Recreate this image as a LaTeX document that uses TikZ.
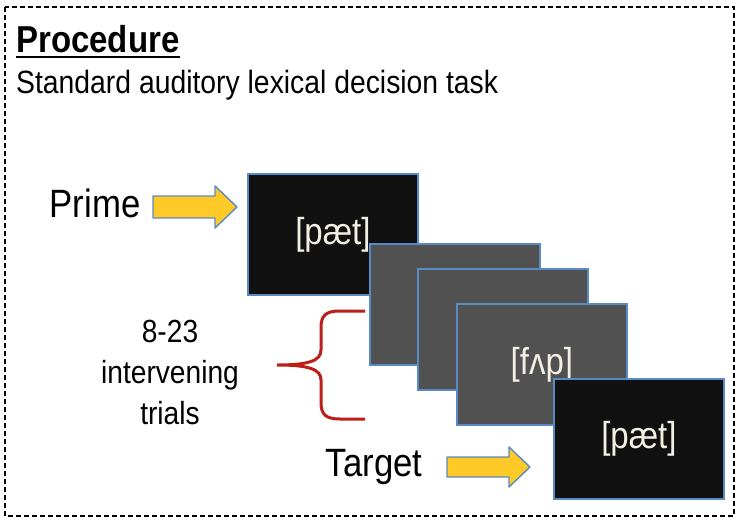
\documentclass[tikz,border=0pt]{standalone}
\usepackage{fontspec}
\setmainfont[FakeStretch=0.88]{Liberation Sans}
\usepackage{tikz}
\definecolor{screenblue}{HTML}{5A8AC6}
\definecolor{screengray}{HTML}{515151}
\definecolor{screenblack}{HTML}{111111}
\definecolor{ipatext}{HTML}{F2F0E2}
\definecolor{arrowyellow}{HTML}{FFCA28}
\definecolor{bracered}{HTML}{BC1E18}
\tikzstyle{screen}=[draw=screenblue,line width=1.8pt,anchor=north west,minimum width=170pt,minimum height=121pt,inner sep=0pt,text=ipatext,font=\fontsize{37.5}{40}\selectfont]
\tikzstyle{label}=[inner sep=0pt,font=\fontsize{39.5}{44}\selectfont]
\tikzstyle{yarrow}=[fill=arrowyellow,draw=screenblue,line width=1.4pt,line join=round]

\begin{document}
\begin{tikzpicture}[x=1pt,y=-1pt]
	\useasboundingbox (0,0) rectangle (750,530);
	\draw[dash pattern=on 5pt off 3pt,line width=1.2pt] (5,7) rectangle (734,516);

	\node(title)[anchor=base west,inner sep=0pt,font=\fontsize{37.5}{40}\bfseries\selectfont] at (16,52){Procedure};
	\draw[line width=2.6pt] ([yshift=-5pt]title.base west) -- ([yshift=-5pt]title.base east);
	\node(task)[anchor=base west,inner sep=0pt,font=\fontsize{32.2}{36}\selectfont] at (16,93){Standard auditory lexical decision task};

	\node(prime)[screen,fill=screenblack] at (247,173){[pæt]};
	\node(fill1)[screen,fill=screengray] at (369,243){};
	\node(fill2)[screen,fill=screengray] at (417,268){};
	\node(fill3)[screen,fill=screengray] at (456,303){[fʌp]};
	\node(target)[screen,fill=screenblack,minimum height=120pt] at (553,378){[pæt]};

	\node(primelab)[label] at (95,203){Prime};
	\node(targetlab)[label] at (374,467){Target};
	\node(trials)[label,align=center,font=\fontsize{32}{41}\selectfont] at (170,372){8-23\\intervening\\trials};

	\draw[yarrow] (153,196) -- (215,196) -- (215,186) -- (237,207) -- (215,228) -- (215,218) -- (153,218) -- cycle;
	\draw[yarrow] (447,457) -- (509,457) -- (509,447) -- (530,467) -- (509,487) -- (509,477) -- (447,477) -- cycle;

	% brace
	\draw[bracered,line width=3pt] (365,311) -- (340,311) .. controls (325,311) and (321,316) .. (321,328)
		-- (321,350) .. controls (321,361) and (308,365) .. (277,365)
		.. controls (308,365) and (321,369) .. (321,380) -- (321,402)
		.. controls (321,414) and (325,419) .. (340,419) -- (365,419);
\end{tikzpicture}
\end{document}
